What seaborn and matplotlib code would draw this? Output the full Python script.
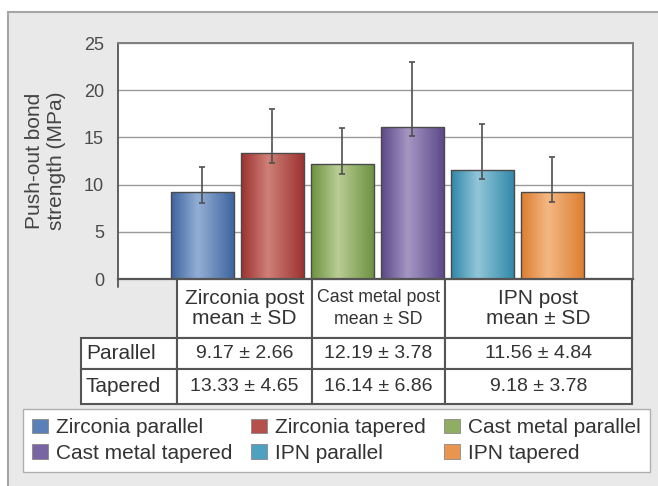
import numpy as np
import pandas as pd
import matplotlib
matplotlib.use("Agg")
import matplotlib.pyplot as plt
import seaborn as sns
from matplotlib.patches import Rectangle, Patch
from matplotlib.colors import LinearSegmentedColormap
from matplotlib.table import Table

# ---------------- data ----------------
groups = ["Zirconia parallel", "Zirconia tapered", "Cast metal parallel",
          "Cast metal tapered", "IPN parallel", "IPN tapered"]
means = [9.17, 13.33, 12.19, 16.14, 11.56, 9.18]
sd_upper = [2.66, 4.65, 3.78, 6.86, 4.84, 3.78]
err_lower = [1.1, 1.0, 1.1, 1.0, 1.0, 1.0]   # lower whisker as drawn in the picture
base_colors = ["#5b80b8", "#b5504c", "#8fae63", "#7a65a3", "#4fa1bf", "#e99550"]
dark_colors = ["#3d639e", "#9c302e", "#6c913f", "#5b4687", "#2f87a8", "#dc7d2e"]
light_colors = ["#93afd6", "#cf8078", "#b9cd94", "#a597c4", "#92c6d9", "#f4b884"]

col_headers = ["Zirconia post\nmean ± SD", "Cast metal post\nmean ± SD", "IPN post\nmean ± SD"]
row_labels = ["Parallel", "Tapered"]
cell_values = [["9.17 ± 2.66", "12.19 ± 3.78", "11.56 ± 4.84"],
               ["13.33 ± 4.65", "16.14 ± 6.86", "9.18 ± 3.78"]]
yticks = [0, 5, 10, 15, 20, 25]
ylabel = "Push-out bond\nstrength (MPa)"

# ---------------- figure ----------------
sns.set_style("white")
plt.rcParams["font.family"] = ["Liberation Sans", "DejaVu Sans"]

W, H = 658, 486
fig = plt.figure(figsize=(W / 100, H / 100), dpi=100)
fig.patch.set_facecolor("white")
fig.patches.append(Rectangle((8 / W, -0.02), 1.0, 1 - 12 / H + 0.02,
                             transform=fig.transFigure, facecolor="#e9e9e9",
                             edgecolor="#a5a5a5", lw=1.5, zorder=-5))

ax_l, ax_r, ax_t, ax_b = 118, 633, 43, 279
ax = fig.add_axes([ax_l / W, 1 - ax_b / H, (ax_r - ax_l) / W, (ax_b - ax_t) / H])
ax.set_facecolor("white")

df = pd.DataFrame({"group": groups, "mean": means})
sns.barplot(data=df, x="group", y="mean", hue="group", palette=base_colors,
            width=0.9, errorbar=None, legend=False, edgecolor="#4a4a4a",
            linewidth=1.0, ax=ax, zorder=2)

# cylinder-like shading
grad = np.linspace(0, 1, 256).reshape(1, -1)
for i, p in enumerate(ax.patches):
    x0, w, h = p.get_x(), p.get_width(), p.get_height()
    cmap = LinearSegmentedColormap.from_list(
        f"c{i}", [(0, dark_colors[i]), (0.42, light_colors[i]), (1, dark_colors[i])])
    im = ax.imshow(grad, extent=[x0, x0 + w, 0, h], aspect="auto", cmap=cmap,
                   zorder=1.5, interpolation="bilinear")
    im.set_clip_path(p)
    p.set_facecolor("none")

ax.errorbar(x=np.arange(len(groups)), y=means, yerr=[err_lower, sd_upper],
            fmt="none", ecolor="#505050", elinewidth=1.2, capsize=2.5,
            capthick=1.2, zorder=3)

ax.set_xlim(-1.2, len(groups) - 1 + 1.15)
ax.set_ylim(0, 25)
ax.set_yticks(yticks)
ax.set_yticklabels([str(t) for t in yticks], fontsize=13, color="#4a4a4a")
ax.set_xticks([])
ax.set_xlabel("")
ax.yaxis.grid(True, color="#9a9a9a", lw=1.0)
ax.set_axisbelow(True)
ax.tick_params(axis="y", direction="out", length=7, width=1.2, color="#555555", pad=3)
for s in ["top", "right"]:
    ax.spines[s].set_color("#808080")
    ax.spines[s].set_linewidth(1.4)
ax.spines["left"].set_color("#555555")
ax.spines["left"].set_linewidth(1.3)
ax.spines["bottom"].set_color("#555555")
ax.spines["bottom"].set_linewidth(1.6)
ax.plot([0, 0], [0, -0.035], transform=ax.transAxes, clip_on=False,
        color="#555555", lw=1.3)

ax.set_ylabel(ylabel, fontsize=15, color="#444444", linespacing=1.2, va="center")
ax.yaxis.set_label_coords((45 - ax_l) / (ax_r - ax_l), 0.5)

# ---------------- table ----------------
aw, ah = ax_r - ax_l, ax_b - ax_t
tl, tr, tt, tb = 81, 632, 279, 404
tbl = Table(ax, bbox=[(tl - ax_l) / aw, (ax_b - tb) / ah, (tr - tl) / aw, (tb - tt) / ah])
col_w = [96, 135, 133, 187]
row_h = [59, 31, 35]
for j, txt in enumerate(col_headers):
    c = tbl.add_cell(0, j + 1, width=col_w[j + 1], height=row_h[0], text=txt, loc="center")
    t = c.get_text()
    if j == 1:
        t.set_fontsize(12.8)
        t.set_linespacing(1.35)
    else:
        t.set_fontsize(15)
        t.set_linespacing(1.1)
for i, rl in enumerate(row_labels):
    c = tbl.add_cell(i + 1, 0, width=col_w[0], height=row_h[i + 1], text=rl, loc="left")
    c.PAD = 0.05
    c.get_text().set_fontsize(15)
    for j, v in enumerate(cell_values[i]):
        c = tbl.add_cell(i + 1, j + 1, width=col_w[j + 1], height=row_h[i + 1], text=v, loc="center")
        c.get_text().set_fontsize(14)
tbl.auto_set_font_size(False)
for c in tbl.get_celld().values():
    c.set_edgecolor("#555555")
    c.set_linewidth(1.5)
    c.set_facecolor("white")
    c.get_text().set_color("#333333")
ax.add_table(tbl)

# ---------------- legend ----------------
handles = [Patch(facecolor=base_colors[i], edgecolor="#888888", lw=0.6) for i in range(6)]
order = [0, 3, 1, 4, 2, 5]
leg = fig.legend([handles[k] for k in order], [groups[k] for k in order],
                 loc="upper left", bbox_to_anchor=(23 / W, 1 - 409 / H, 627 / W, 0.0),
                 mode="expand", ncol=3, fontsize=15, frameon=True, fancybox=False,
                 edgecolor="#b0b0b0", framealpha=1, handlelength=0.75,
                 handleheight=0.7, handletextpad=0.4, labelspacing=0.3,
                 borderpad=0.45, borderaxespad=0, columnspacing=0.3)
for t in leg.get_texts():
    t.set_color("#333333")
leg.get_frame().set_linewidth(1.0)

fig.savefig("out.png", dpi=100)
